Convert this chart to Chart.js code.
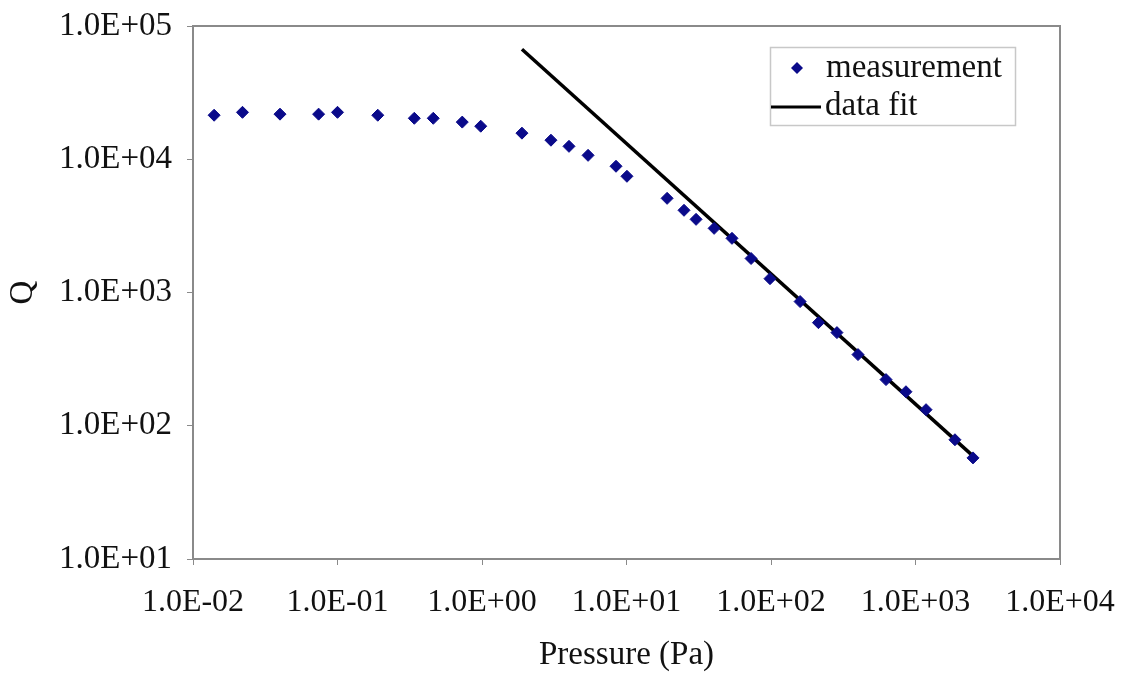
<!DOCTYPE html>
<html>
<head>
<meta charset="utf-8">
<script src="https://cdn.jsdelivr.net/npm/chart.js@4.4.1/dist/chart.umd.min.js"></script>
<style>
  html, body { margin: 0; padding: 0; background: #fff; }
  #wrap { width: 1126px; height: 675px; }
</style>
</head>
<body>
<div id="wrap"><canvas id="qChart"></canvas></div>
<script>
// measured points (Pa, Q)
const pressure = [0.014, 0.022, 0.040, 0.074, 0.10, 0.19, 0.34, 0.46, 0.73, 0.98,
    1.89, 3.0, 4.0, 5.42, 8.46, 10.07, 19.1, 25.0, 30.3, 40.4, 53.7, 72.8, 98.4,
    159, 213, 286, 400, 625, 859, 1183, 1875, 2500];
const qValues = [21400, 22500, 21800, 21800, 22500, 21400, 20300, 20300, 19000, 17700,
    15700, 13900, 12500, 10700, 8860, 7450, 5090, 4140, 3540, 3030, 2550, 1800, 1270,
    855, 594, 500, 342, 222, 180, 132, 78.5, 57.4];

// power-law fit line end points
const fitPressure = [1.89, 2585];
const fitQ = [67000, 57.4];

const xTickValues = [0.01, 0.1, 1, 10, 100, 1000, 10000];
const xTickLabels = ['1.0E-02', '1.0E-01', '1.0E+00', '1.0E+01', '1.0E+02', '1.0E+03', '1.0E+04'];
const yTickValues = [10, 100, 1000, 10000, 100000];
const yTickLabels = ['1.0E+01', '1.0E+02', '1.0E+03', '1.0E+04', '1.0E+05'];

const serif = "'Liberation Serif', 'Times New Roman', serif";
const axisGray = '#8a8a8a';

// caja del area de trazado (arriba y derecha)
const plotBox = {
    id: 'plotBox',
    afterDraw(chart) {
        const { ctx, chartArea: a } = chart;
        ctx.save();
        ctx.strokeStyle = axisGray;
        ctx.lineWidth = 2;
        ctx.beginPath();
        ctx.moveTo(a.left, a.top);
        ctx.lineTo(a.right, a.top);
        ctx.lineTo(a.right, a.bottom);
        ctx.stroke();
        ctx.restore();
    }
};

// leyenda dentro del grafico
const boxLegend = {
    id: 'boxLegend',
    afterDraw(chart) {
        const ctx = chart.ctx;
        const ds = chart.data.datasets;
        ctx.save();
        ctx.fillStyle = '#fff';
        ctx.fillRect(770, 47, 245, 78);
        ctx.strokeStyle = '#c8c8c8';
        ctx.lineWidth = 1.5;
        ctx.strokeRect(770.5, 47.5, 245, 78);

        ctx.fillStyle = ds[0].backgroundColor;
        ctx.beginPath();
        ctx.moveTo(797, 62); ctx.lineTo(803, 68); ctx.lineTo(797, 74); ctx.lineTo(791, 68);
        ctx.closePath();
        ctx.fill();

        ctx.strokeStyle = ds[1].borderColor;
        ctx.lineWidth = 3;
        ctx.beginPath();
        ctx.moveTo(771, 107);
        ctx.lineTo(821, 107);
        ctx.stroke();

        ctx.fillStyle = '#111';
        ctx.font = '33px ' + serif;
        ctx.textBaseline = 'middle';
        ctx.fillText(ds[0].label, 826, 68);
        ctx.fillText(ds[1].label, 825, 106);
        ctx.restore();
    }
};

function setupChart() {
    const ctx = document.getElementById('qChart');
    new Chart(ctx, {
        type: 'scatter',
        data: {
            datasets: [{
                label: 'measurement',
                data: pressure.map((p, i) => ({ x: p, y: qValues[i] })),
                pointStyle: 'rectRot',
                pointRadius: 6,
                backgroundColor: '#0a0a8a',
                borderColor: '#0a0a8a',
                borderWidth: 1
            }, {
                label: 'data fit',
                type: 'line',
                data: fitPressure.map((p, i) => ({ x: p, y: fitQ[i] })),
                borderColor: '#000',
                borderWidth: 3.5,
                pointRadius: 0,
                fill: false
            }]
        },
        options: {
            responsive: true,
            maintainAspectRatio: false,
            animation: false,
            layout: { padding: { top: 26, right: 66, left: 0, bottom: 0 } },
            plugins: {
                legend: { display: false },
                tooltip: { enabled: false }
            },
            scales: {
                x: {
                    type: 'logarithmic',
                    min: 0.01,
                    max: 10000,
                    afterBuildTicks: s => { s.ticks = xTickValues.map(v => ({ value: v })); },
                    afterFit: s => {
                        s.height = 116;
                        s.paddingLeft = 0;
                        s.paddingRight = 0;
                    },
                    border: { display: true, color: axisGray, width: 2 },
                    grid: { display: true, drawOnChartArea: false, tickLength: 6, color: axisGray },
                    ticks: {
                        autoSkip: false,
                        maxRotation: 0,
                        padding: 18,
                        color: '#111',
                        font: { family: serif, size: 32 },
                        callback: (v, i) => xTickLabels[i]
                    },
                    title: {
                        display: true,
                        text: 'Pressure (Pa)',
                        color: '#111',
                        font: { family: serif, size: 33 },
                        padding: { top: 0, bottom: 0 }
                    }
                },
                y: {
                    type: 'logarithmic',
                    min: 10,
                    max: 100000,
                    afterBuildTicks: s => { s.ticks = yTickValues.map(v => ({ value: v })); },
                    afterFit: s => {
                        s.width = 193;
                        s.paddingTop = 0;
                        s.paddingBottom = 0;
                    },
                    border: { display: true, color: axisGray, width: 2 },
                    grid: { display: true, drawOnChartArea: false, tickLength: 6, color: axisGray },
                    ticks: {
                        autoSkip: false,
                        padding: 15,
                        color: '#111',
                        font: { family: serif, size: 33 },
                        callback: (v, i) => yTickLabels[i]
                    },
                    title: {
                        display: true,
                        text: 'Q',
                        color: '#111',
                        font: { family: serif, size: 33 },
                        padding: { top: 4, bottom: 0 }
                    }
                }
            }
        },
        plugins: [plotBox, boxLegend]
    });
}

document.addEventListener('DOMContentLoaded', setupChart);
</script>
</body>
</html>
